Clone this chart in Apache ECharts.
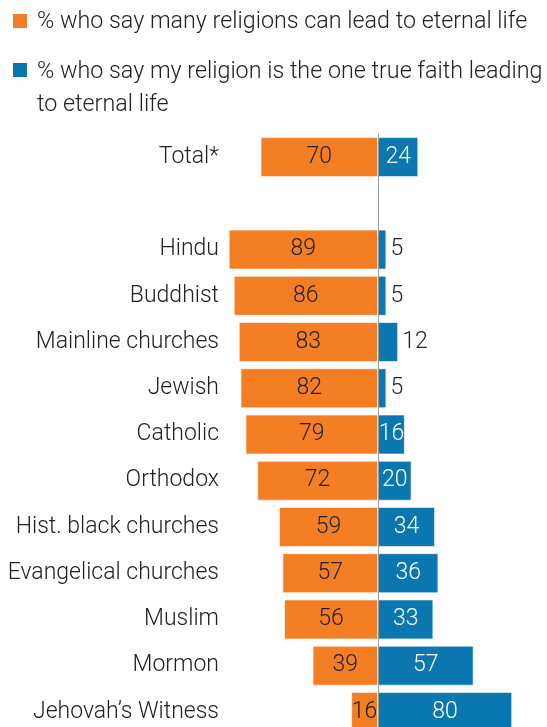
<!DOCTYPE html>
<html>
<head>
<meta charset="utf-8">
<script src="https://cdn.jsdelivr.net/npm/echarts@6/dist/echarts.min.js"></script>
<style>
  html, body { margin: 0; padding: 0; background: #fff; overflow: hidden; }
  #chart { width: 547px; height: 740px; }
</style>
</head>
<body>
<div id="chart"></div>
<script>
// Religious groups (an empty slot separates the total from the groups)
const categories = ['Total*', '', 'Hindu', 'Buddhist', 'Mainline churches', 'Jewish', 'Catholic',
  'Orthodox', 'Hist. black churches', 'Evangelical churches', 'Muslim', 'Mormon', 'Jehovah\u2019s Witness'];
// % who say many religions can lead to eternal life
const manyReligions = [70, null, 89, 86, 83, 82, 79, 72, 59, 57, 56, 39, 16];
// % who say my religion is the one true faith leading to eternal life
const oneTrueFaith = [24, null, 5, 5, 12, 5, 16, 20, 34, 36, 33, 57, 80];

const legendLabels = [
  '% who say many religions can lead to eternal life',
  '% who say my religion is the one true faith leading\nto eternal life'
];

const ORANGE = '#f47e24';
const BLUE = '#0a77b0';
const TEXT = '#222';
const FONT = 'Roboto, "Liberation Sans", Arial, sans-serif';
const FS = 23;
const LEGEND_FS = 23.3;

const chart = echarts.init(document.getElementById('chart'), null, { renderer: 'canvas' });

chart.setOption({
  animation: false,
  textStyle: { fontFamily: FONT },
  graphic: [
    { type: 'rect', left: 13, top: 14, shape: { width: 14, height: 14 }, style: { fill: ORANGE } },
    { type: 'text', x: 37, y: 22, style: { text: legendLabels[0], font: '300 ' + LEGEND_FS + 'px ' + FONT, fill: TEXT, verticalAlign: 'middle' } },
    { type: 'rect', left: 13, top: 63, shape: { width: 14, height: 14 }, style: { fill: BLUE } },
    { type: 'text', x: 37, y: 72 - 16.5, style: { text: legendLabels[1], font: '300 ' + LEGEND_FS + 'px ' + FONT, fill: TEXT, lineHeight: 33, verticalAlign: 'top' } }
  ],
  grid: { left: 227, right: 18, top: 134, height: 601, containLabel: false },
  xAxis: {
    type: 'value', min: -90, max: 90, show: false
  },
  yAxis: {
    type: 'category', data: categories, inverse: true, z: 5,
    axisTick: { show: false },
    axisLine: { show: true, onZero: true, lineStyle: { color: '#9a9a9a', width: 1 } },
    axisLabel: { margin: 8, fontSize: FS, fontWeight: 300, color: TEXT, fontFamily: FONT }
  },
  series: [
    {
      name: legendLabels[0], type: 'bar', barWidth: 40, barGap: '-100%',
      data: manyReligions.map(v => v == null ? null : -v),
      itemStyle: { color: ORANGE, borderColor: 'rgba(255,255,255,0.6)', borderWidth: 1 },
      label: {
        show: true, position: 'inside', color: TEXT, fontSize: FS, fontWeight: 300, fontFamily: FONT,
        formatter: p => Math.abs(p.value)
      }
    },
    {
      name: legendLabels[1], type: 'bar', barWidth: 40,
      data: oneTrueFaith.map(v => v == null ? null : {
        value: v,
        label: v < 15
          ? { position: 'right', distance: 4, color: TEXT }
          : { position: 'inside', color: '#fff' }
      }),
      itemStyle: { color: BLUE, borderColor: 'rgba(255,255,255,0.6)', borderWidth: 1 },
      label: { show: true, fontSize: FS, fontWeight: 300, fontFamily: FONT }
    }
  ]
});
</script>
</body>
</html>
